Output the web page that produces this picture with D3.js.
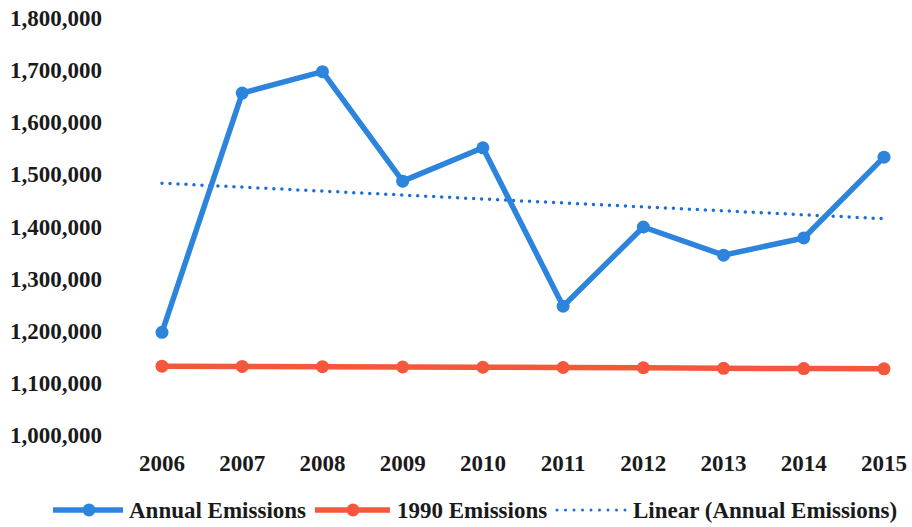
<html>
<head>
<script src="https://d3js.org/d3.v7.min.js"></script>
<style>
  body { margin: 0; background: white; }
  text { font-family: "Liberation Serif", "Times New Roman", serif; font-weight: bold; fill: #1a1a1a; }
</style>
</head>
<body>
<svg width="912" height="527"></svg>
<script>
var years = [2006, 2007, 2008, 2009, 2010, 2011, 2012, 2013, 2014, 2015]
var annual = [1197000, 1656000, 1697000, 1487000, 1551000, 1247000, 1399000, 1345000, 1378000, 1533000]
var base1990 = [1132000, 1131500, 1131000, 1130500, 1130000, 1129500, 1129000, 1128000, 1127500, 1127000]
var yTicks = [1000000, 1100000, 1200000, 1300000, 1400000, 1500000, 1600000, 1700000, 1800000]
var legendNames = ["Annual Emissions", "1990 Emissions", "Linear (Annual Emissions)"]

const blue = "#2c84dc", red = "#f4573b", trendBlue = "#1b6ed6"
const fs = "23px"
var svg = d3.select("svg")
var x = d3.scaleLinear().domain([2006, 2015]).range([162, 884])
var y = d3.scaleLinear().domain([1000000, 1800000]).range([435, 18])

// y labels
svg.append("g").selectAll("text").data(yTicks).enter().append("text")
  .attr("x", 102).attr("y", d => y(d)).attr("dy", "0.35em")
  .attr("text-anchor", "end").style("font-size", fs)
  .text(d => d3.format(",")(d))

// x labels
svg.append("g").selectAll("text").data(years).enter().append("text")
  .attr("x", d => x(d)).attr("y", 463).attr("dy", "0.35em")
  .attr("text-anchor", "middle").style("font-size", fs)
  .text(d => d)

// least squares trend for annual
var mx = d3.mean(years), my = d3.mean(annual)
var slope = d3.sum(years, (d, i) => (d - mx) * (annual[i] - my)) / d3.sum(years, d => (d - mx) * (d - mx))
var trend = years.map(d => my + slope * (d - mx))

var line = d3.line().x((d, i) => x(years[i])).y(d => y(d))

svg.append("path").datum(trend).attr("d", line)
  .attr("fill", "none").attr("stroke", trendBlue).attr("stroke-width", 3.5)
  .attr("stroke-dasharray", "0 8").attr("stroke-linecap", "round")

function series(vals, col) {
  var g = svg.append("g")
  g.append("path").datum(vals).attr("d", line)
    .attr("fill", "none").attr("stroke", col).attr("stroke-width", 5.5)
    .attr("stroke-linejoin", "round")
  g.selectAll("circle").data(vals).enter().append("circle")
    .attr("cx", (d, i) => x(years[i])).attr("cy", d => y(d)).attr("r", 6.5)
    .attr("fill", col)
}
series(base1990, red)
series(annual, blue)

// legend
var leg = svg.append("g")
var ly = 510
leg.append("line").attr("x1", 53).attr("x2", 123).attr("y1", ly).attr("y2", ly)
  .attr("stroke", blue).attr("stroke-width", 5.5)
leg.append("circle").attr("cx", 89).attr("cy", ly).attr("r", 6.5).attr("fill", blue)
leg.append("text").attr("x", 129).attr("y", ly).attr("dy", "0.35em").style("font-size", fs).text(legendNames[0])

leg.append("line").attr("x1", 315).attr("x2", 390).attr("y1", ly).attr("y2", ly)
  .attr("stroke", red).attr("stroke-width", 5.5)
leg.append("circle").attr("cx", 353).attr("cy", ly).attr("r", 6.5).attr("fill", red)
leg.append("text").attr("x", 397).attr("y", ly).attr("dy", "0.35em").style("font-size", fs).text(legendNames[1])

leg.append("line").attr("x1", 557).attr("x2", 628).attr("y1", ly).attr("y2", ly)
  .attr("stroke", trendBlue).attr("stroke-width", 3).attr("stroke-dasharray", "0 8.5").attr("stroke-linecap", "round")
leg.append("text").attr("x", 633).attr("y", ly).attr("dy", "0.35em").style("font-size", fs).text(legendNames[2])
</script>
</body>
</html>
